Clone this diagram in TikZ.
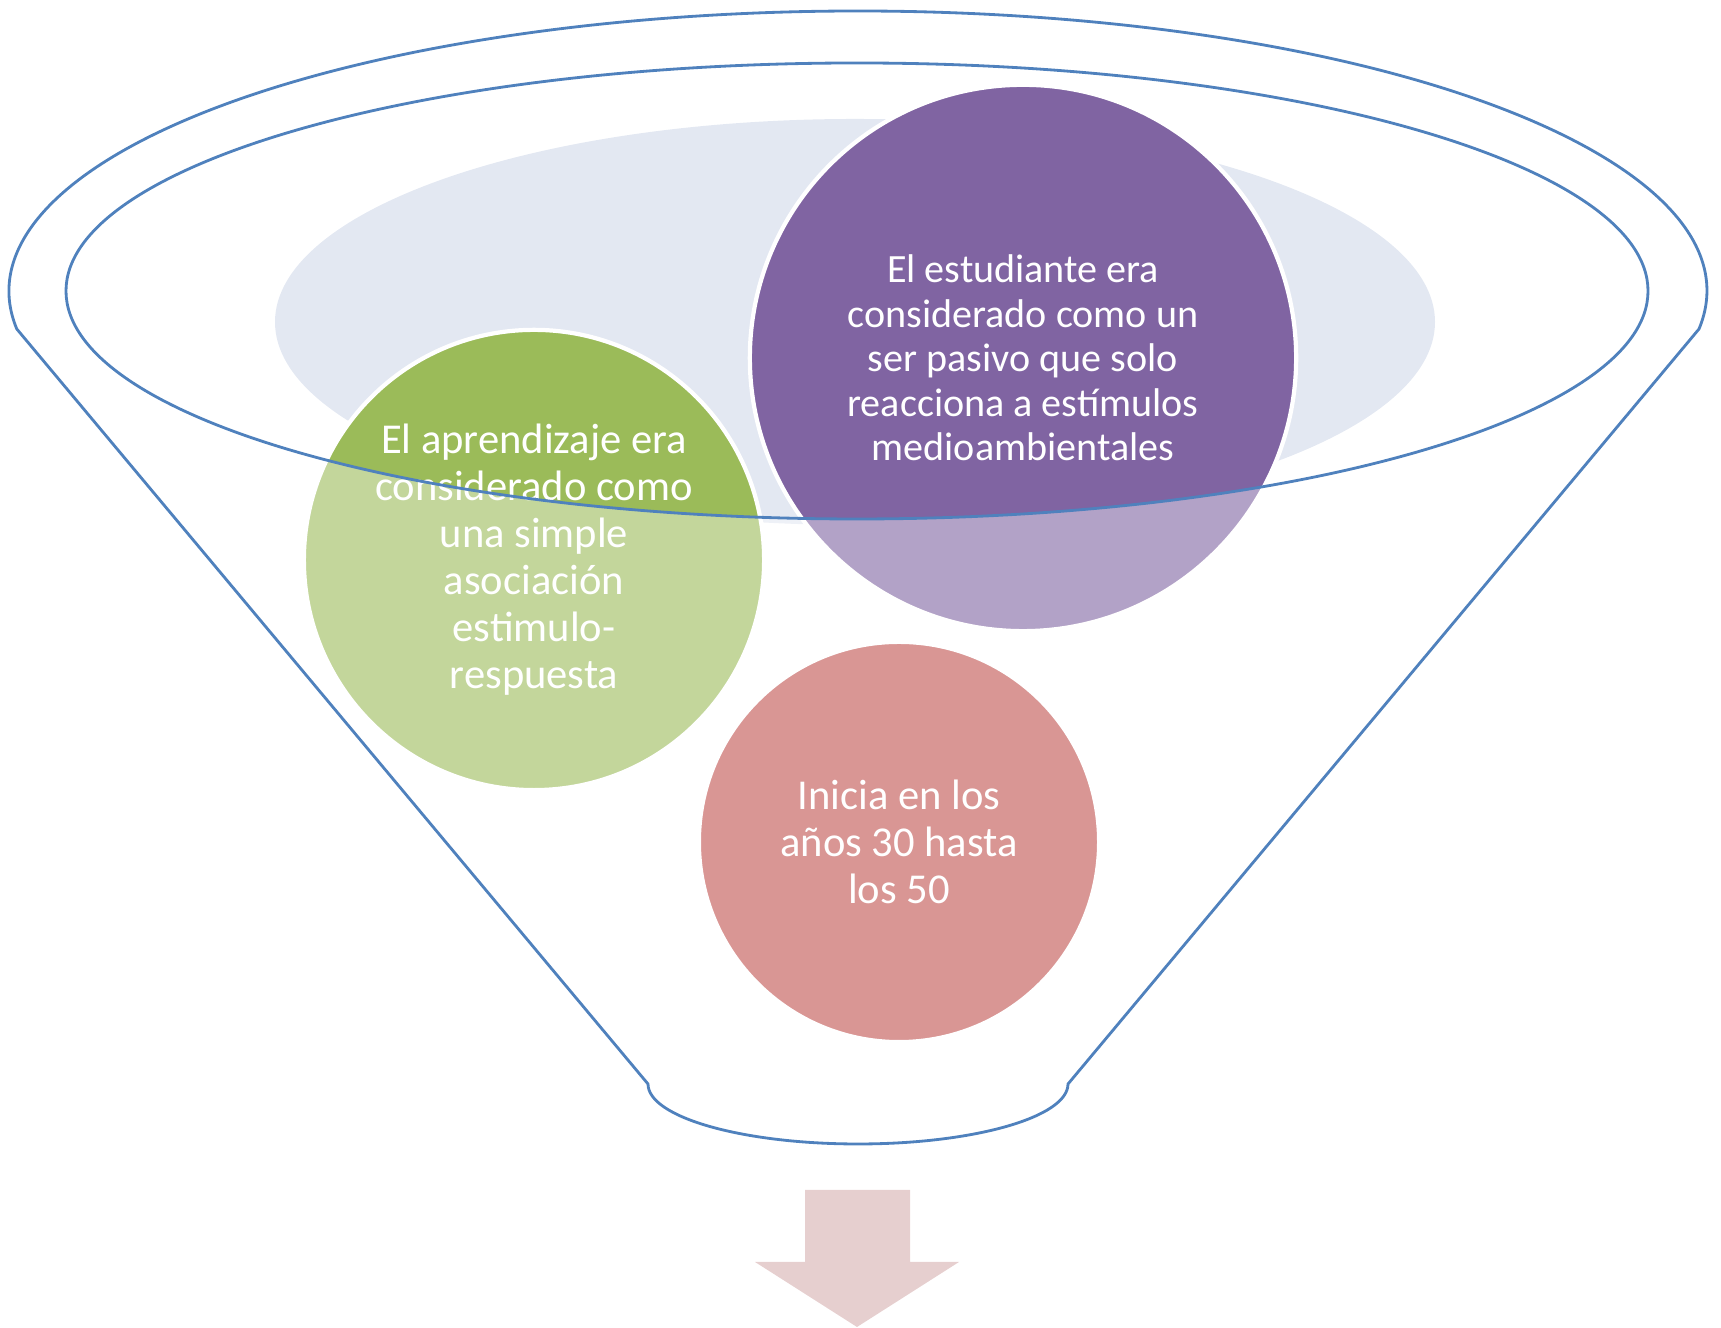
\documentclass[tikz,border=0pt]{standalone}
\usepackage{fontspec}
\setmainfont{Carlito}
\usepackage{tikz}
\definecolor{rimcol}{HTML}{4F81BD}
\definecolor{poolcol}{HTML}{E3E8F2}
\definecolor{greencol}{HTML}{9BBB59}
\definecolor{purplecol}{HTML}{8064A2}
\definecolor{redcol}{HTML}{C0504D}
\definecolor{arrowcol}{HTML}{E6CFCF}
\tikzset{
  bubble/.style={circle, draw=white, line width=1.2pt, inner sep=0pt,
    text=white, align=center},
  bigtext/.style={font=\fontsize{12.1}{13.37}\selectfont},
  smalltext/.style={font=\fontsize{11.4}{12.66}\selectfont},
  rim/.style={draw=rimcol, line width=0.8pt},
}

\begin{document}
\begin{tikzpicture}[x=0.01cm, y=0.01cm]
\useasboundingbox (0,0) rectangle (1721,1328);

% ---------------- Pool inside the funnel ----------------
\fill[poolcol] (855,1006) ellipse [x radius=580, y radius=203];

% ---------------- Bubbles ----------------
\node[bubble, bigtext, fill=greencol, minimum size=4.6cm] (learn) at (534,768)
  {El aprendizaje era\\considerado como\\una simple\\asociación\\estimulo-\\respuesta};
\node[bubble, smalltext, fill=purplecol, minimum size=5.46cm] (student) at (1023,970)
  {El estudiante era\\considerado como un\\ser pasivo que solo\\reacciona a estímulos\\medioambientales};
\node[bubble, bigtext, fill=redcol, minimum size=4cm] (decade) at (899,486)
  {Inicia en los\\años 30 hasta\\los 50};

% ---------------- Funnel glass ----------------
\path[rim, fill=white, fill opacity=0.4, even odd rule]
  (1699,999) arc[start angle=-7.8, end angle=187.8, x radius=849, y radius=280]
  -- (648,244) arc[start angle=180, end angle=360, x radius=210, y radius=60]
  -- cycle
  (857,1037) ellipse [x radius=791, y radius=228];

% ---------------- Arrow below ----------------
\fill[arrowcol] (805,138) -- (910,138) -- (910,66) -- (959,66)
  -- (857,1) -- (755,66) -- (805,66) -- cycle;

\end{tikzpicture}
\end{document}
